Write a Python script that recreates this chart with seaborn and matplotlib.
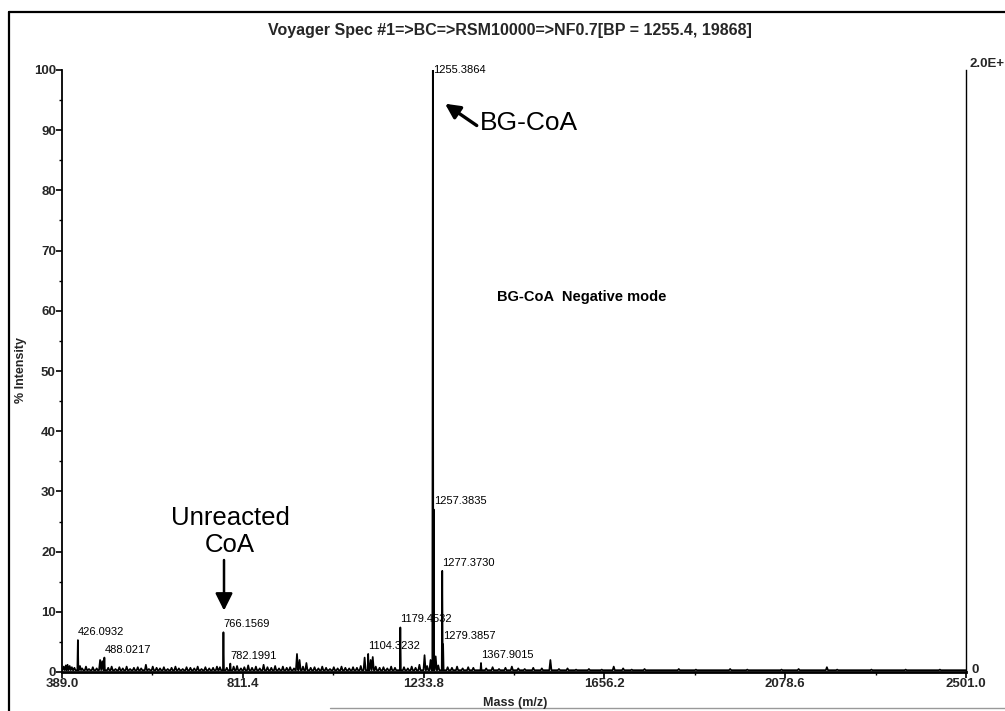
import matplotlib
matplotlib.use("Agg")
import numpy as np
import pandas as pd
import seaborn as sns
import matplotlib.pyplot as plt
from matplotlib.lines import Line2D

# ---- spectrum data -------------------------------------------------------
title = "Voyager Spec #1=>BC=>RSM10000=>NF0.7[BP = 1255.4, 19868]"

# labelled peaks (m/z, % intensity)
peak_mz = [426.0932, 488.0217, 766.1569, 782.1991, 1104.3232, 1179.4532,
           1255.3864, 1257.3835, 1277.3730, 1279.3857, 1367.9015]
peak_int = [5.3, 2.4, 6.6, 1.4, 3.0, 7.4, 100.0, 27.0, 16.8, 4.6, 1.5]

# smaller unlabelled peaks
minor_mz = [398, 407, 431, 478, 483, 585, 938, 944, 960, 1096, 1110, 1115,
            1236, 1250, 1262, 1530, 1678, 2176]
minor_int = [1.1, 1.0, 1.0, 2.0, 1.8, 1.2, 3.0, 2.0, 1.5, 2.4, 2.0, 2.5,
             2.8, 2.0, 2.6, 2.0, 0.9, 0.8]

# baseline grass
noise_mz = [393, 402, 412, 418, 436, 445, 452, 461, 470, 497, 505, 514, 523,
            531, 540, 548, 557, 566, 574, 592, 601, 610, 618, 627, 636, 645,
            654, 662, 671, 680, 689, 698, 706, 715, 724, 733, 742, 751, 758,
            774, 790, 798, 807, 815, 824, 833, 842, 851, 860, 869, 878, 887,
            896, 905, 914, 922, 931, 952, 970, 979, 988, 997, 1006, 1015, 1024,
            1033, 1042, 1051, 1060, 1069, 1078, 1087, 1122, 1131, 1140, 1149,
            1158, 1167, 1188, 1197, 1206, 1215, 1224, 1242, 1268, 1290, 1300,
            1312, 1325, 1338, 1350, 1380, 1395, 1410, 1425, 1440, 1455, 1470,
            1490, 1510, 1550, 1570, 1590, 1620, 1650, 1700, 1720, 1750, 1790,
            1830, 1870, 1910, 1950, 1990, 2030, 2070, 2110, 2150, 2200, 2240,
            2280, 2320, 2360, 2400, 2440, 2480]
noise_int = [0.9, 1.2, 0.8, 0.7, 0.6, 0.9, 0.5, 0.8, 0.6, 0.7, 0.9, 0.5, 0.8,
             0.6, 0.9, 0.5, 0.7, 0.8, 0.6, 0.5, 0.9, 0.7, 0.6, 0.8, 0.5, 0.7,
             0.9, 0.6, 0.5, 0.8, 0.7, 0.6, 0.9, 0.5, 0.8, 0.6, 0.7, 0.9, 0.8,
             0.7, 0.9, 1.0, 0.6, 0.8, 1.1, 0.7, 0.9, 0.6, 1.2, 0.8, 0.7, 1.0,
             0.6, 0.9, 0.7, 0.8, 0.6, 0.9, 0.7, 0.8, 0.6, 0.9, 0.7, 0.5, 0.8,
             0.6, 0.9, 0.7, 0.6, 0.8, 0.7, 1.0, 0.9, 0.7, 0.8, 0.6, 0.9, 0.7,
             0.8, 0.6, 0.9, 0.7, 1.2, 1.0, 1.1, 0.8, 0.7, 0.9, 0.6, 0.8, 0.7,
             0.6, 0.8, 0.5, 0.7, 0.9, 0.6, 0.5, 0.7, 0.6, 0.5, 0.6, 0.4, 0.5,
             0.4, 0.6, 0.4, 0.5, 0.3, 0.5, 0.4, 0.3, 0.5, 0.4, 0.3, 0.4, 0.5,
             0.3, 0.4, 0.3, 0.4, 0.3, 0.4, 0.3, 0.4, 0.3]

x_ticks = [389.0, 811.4, 1233.8, 1656.2, 2078.6, 2501.0]
x_tick_labels = ["389.0", "811.4", "1233.8", "1656.2", "2078.6", "2501.0"]
y_ticks = [0, 10, 20, 30, 40, 50, 60, 70, 80, 90, 100]

# ---- build a stick profile ----------------------------------------------
baseline = 0.3
sticks = ([(m, h, 1.2) for m, h in zip(peak_mz, peak_int)]
          + [(m, h, 2.5) for m, h in zip(minor_mz, minor_int)]
          + [(m, h, 2.5) for m, h in zip(noise_mz, noise_int)])
sticks.sort(key=lambda s: s[0])
prof_x, prof_y = [x_ticks[0]], [baseline]
for m, h, w in sticks:
    prof_x += [m - w, m, m + w]
    prof_y += [baseline, h, baseline]
prof_x.append(x_ticks[-1])
prof_y.append(baseline)
spec = pd.DataFrame({"mz": prof_x, "intensity": prof_y})

# ---- figure --------------------------------------------------------------
sns.set_theme(style="white")
plt.rcParams["font.family"] = ["Liberation Sans", "DejaVu Sans"]

W, H = 1005, 711
fig = plt.figure(figsize=(W / 100, H / 100), dpi=100)
fig.patch.set_facecolor("white")
ax = fig.add_axes([62 / W, 1 - 672 / H, (966 - 62) / W, (672 - 70) / H])

sns.lineplot(data=spec, x="mz", y="intensity", sort=False, estimator=None,
             color="black", lw=1.25, ax=ax)

ax.set_xlim(x_ticks[0], x_ticks[-1])
ax.set_ylim(0, 100)
ax.set_xlabel("")
ax.set_ylabel("")

for side in ("left", "bottom", "right"):
    ax.spines[side].set_visible(True)
    ax.spines[side].set_color("black")
ax.spines["top"].set_visible(False)
ax.spines["left"].set_linewidth(1.3)
ax.spines["bottom"].set_linewidth(2.0)
ax.spines["right"].set_linewidth(1.0)

ax.set_xticks(x_ticks)
ax.set_xticklabels(x_tick_labels)
ax.set_xticks([(a + b) / 2 for a, b in zip(x_ticks[:-1], x_ticks[1:])], minor=True)
ax.set_yticks(y_ticks)
ax.set_yticks([v + 5 for v in y_ticks[:-1]], minor=True)
ax.tick_params(axis="both", which="major", direction="out", length=4, width=1.2,
               color="black", labelsize=9.5, pad=0.5, bottom=True, left=True,
               right=False, top=False)
ax.tick_params(axis="both", which="minor", direction="out", length=2, width=1,
               color="black", bottom=True, left=True, right=False, top=False)
for lab in ax.get_xticklabels() + ax.get_yticklabels():
    lab.set_fontweight("bold")

# right-hand absolute intensity scale
ax.text(1.004, 1.0, "2.0E+", transform=ax.transAxes, ha="left", va="bottom",
        fontsize=9.5, fontweight="bold", clip_on=False)
ax.text(1.006, 0.004, "0", transform=ax.transAxes, ha="left", va="center",
        fontsize=9.5, fontweight="bold", clip_on=False)

# peak labels
for m, h in zip(peak_mz, peak_int):
    ty = 99.1 if h >= 99 else h + 0.5
    ax.text(m, ty, f"{m:.4f}", ha="left", va="bottom", fontsize=8,
            color="black", clip_on=False)

# annotations
ax.annotate("BG-CoA", xy=(1283.8, 94.4), xytext=(1365.6, 91.2),
            fontsize=19, ha="left", va="center", color="black",
            arrowprops=dict(arrowstyle="-|>", color="black", lw=2.4,
                            mutation_scale=22, shrinkA=0, shrinkB=0,
                            relpos=(0, 0.3)))
ax.text(781.5, 23.4, "Unreacted\nCoA", fontsize=18.5, ha="center",
        va="center", linespacing=1.15, color="black")
ax.annotate("", xy=(767.5, 10.2), xytext=(767.5, 18.6),
            arrowprops=dict(arrowstyle="-|>", color="black", lw=1.8,
                            mutation_scale=26, shrinkA=0, shrinkB=0))
ax.text(1405.3, 62.3, "BG-CoA  Negative mode", fontsize=10.5, fontweight="bold",
        ha="left", va="center", color="black")

# titles
fig.text(509.5 / W, 1 - 30 / H, title, ha="center", va="center",
         fontsize=11.5, fontweight="bold")
fig.text(21 / W, 1 - 370 / H, "% Intensity", rotation=90, ha="center",
         va="center", fontsize=9, fontweight="bold")
fig.text(515 / W, 1 - 703 / H, "Mass (m/z)", ha="center", va="center",
         fontsize=9, fontweight="bold")

# outer frame
fig.add_artist(Line2D([9 / W, 9 / W], [0, 1 - 12 / H], transform=fig.transFigure,
                      color="black", lw=1.6))
fig.add_artist(Line2D([9 / W, 1], [1 - 12 / H, 1 - 12 / H],
                      transform=fig.transFigure, color="black", lw=1.6))
fig.add_artist(Line2D([330 / W, 1], [1 - 708 / H, 1 - 708 / H],
                      transform=fig.transFigure, color="#999999", lw=1.0))

fig.savefig("out.png", dpi=100, facecolor="white")
